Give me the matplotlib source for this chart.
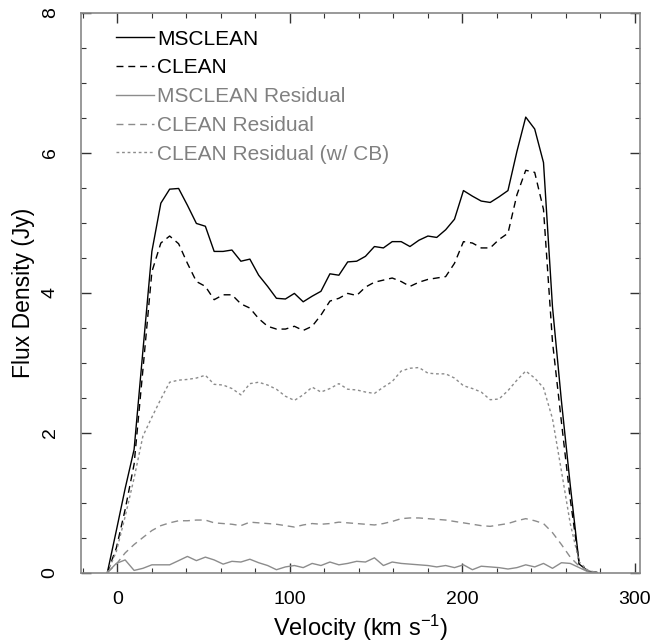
import matplotlib
matplotlib.use('Agg')
import matplotlib.pyplot as plt
from matplotlib.ticker import MultipleLocator

plt.rcParams['font.family'] = ['Liberation Sans', 'DejaVu Sans']
plt.rcParams['mathtext.default'] = 'regular'

# Velocidades de los canales (km/s)
velocidad = [-5.7, -0.5, 4.6, 9.8, 14.9, 20.1, 25.3, 30.4, 35.6, 40.7,
             45.9, 51.1, 56.2, 61.4, 66.5, 71.7, 76.9, 82.0, 87.2, 92.3,
             97.5, 102.7, 107.8, 113.0, 118.1, 123.3, 128.5, 133.6, 138.8, 143.9,
             149.1, 154.3, 159.4, 164.6, 169.7, 174.9, 180.1, 185.2, 190.4, 195.5,
             200.7, 205.9, 211.0, 216.2, 221.3, 226.5, 231.7, 236.8, 242.0, 247.1,
             252.3, 257.5, 262.6, 267.8, 272.9, 278.1]

mscleanFlux = [0.00, 0.60, 1.20, 1.76, 3.17, 4.59, 5.28, 5.48, 5.49, 5.25,
               4.99, 4.95, 4.59, 4.59, 4.61, 4.45, 4.48, 4.25, 4.09, 3.92,
               3.91, 3.99, 3.87, 3.95, 4.02, 4.27, 4.25, 4.44, 4.45, 4.52,
               4.66, 4.64, 4.73, 4.73, 4.66, 4.75, 4.81, 4.79, 4.90, 5.05,
               5.46, 5.38, 5.31, 5.29, 5.37, 5.46, 6.02, 6.51, 6.34, 5.86,
               3.80, 2.45, 1.25, 0.12, 0.02, 0.00]

cleanFlux = [0.00, 0.35, 0.90, 1.55, 2.90, 4.30, 4.71, 4.81, 4.70, 4.42,
             4.16, 4.09, 3.90, 3.97, 3.97, 3.84, 3.78, 3.63, 3.52, 3.48,
             3.48, 3.52, 3.46, 3.52, 3.68, 3.88, 3.92, 3.99, 3.96, 4.08,
             4.15, 4.18, 4.21, 4.16, 4.09, 4.15, 4.19, 4.21, 4.23, 4.42,
             4.73, 4.71, 4.64, 4.64, 4.76, 4.85, 5.40, 5.75, 5.72, 5.19,
             3.30, 2.15, 1.05, 0.12, 0.02, 0.00]

mscleanResid = [0.00, 0.13, 0.18, 0.03, 0.06, 0.11, 0.11, 0.11, 0.17, 0.23,
                0.17, 0.22, 0.18, 0.12, 0.16, 0.15, 0.19, 0.14, 0.10, 0.04,
                0.08, 0.10, 0.07, 0.13, 0.10, 0.15, 0.11, 0.13, 0.16, 0.15,
                0.21, 0.10, 0.15, 0.13, 0.12, 0.11, 0.10, 0.08, 0.10, 0.07,
                0.11, 0.04, 0.09, 0.08, 0.07, 0.05, 0.07, 0.11, 0.08, 0.13,
                0.06, 0.14, 0.13, 0.07, 0.01, 0.00]

cleanResid = [0.00, 0.12, 0.28, 0.40, 0.50, 0.60, 0.67, 0.71, 0.74, 0.74,
              0.75, 0.75, 0.71, 0.70, 0.69, 0.67, 0.72, 0.71, 0.70, 0.69,
              0.67, 0.65, 0.68, 0.70, 0.69, 0.70, 0.72, 0.71, 0.70, 0.69,
              0.68, 0.70, 0.73, 0.77, 0.78, 0.78, 0.77, 0.76, 0.75, 0.73,
              0.71, 0.69, 0.67, 0.66, 0.68, 0.70, 0.74, 0.77, 0.74, 0.70,
              0.57, 0.40, 0.22, 0.09, 0.03, 0.00]

cleanResidCB = [0.00, 0.30, 0.80, 1.35, 1.95, 2.22, 2.48, 2.72, 2.75, 2.76,
                2.78, 2.82, 2.69, 2.68, 2.63, 2.54, 2.70, 2.72, 2.68, 2.62,
                2.52, 2.46, 2.54, 2.65, 2.58, 2.63, 2.70, 2.62, 2.61, 2.58,
                2.56, 2.65, 2.73, 2.88, 2.92, 2.93, 2.85, 2.84, 2.84, 2.78,
                2.67, 2.63, 2.58, 2.47, 2.48, 2.60, 2.75, 2.88, 2.78, 2.64,
                2.20, 1.45, 0.70, 0.15, 0.03, 0.00]

gris = '#8c8c8c'

fig = plt.figure(figsize=(6.53, 6.44), dpi=100)
ax = fig.add_axes([0.124, 0.111, 0.856, 0.869])

ax.plot(velocidad, mscleanFlux, color='black', lw=1.0, label='MSCLEAN')
ax.plot(velocidad, cleanFlux, color='black', lw=1.0, dashes=(5, 3.5), label='CLEAN')
ax.plot(velocidad, mscleanResid, color=gris, lw=1.0, label='MSCLEAN Residual')
ax.plot(velocidad, cleanResid, color=gris, lw=1.0, dashes=(5, 3.5), label='CLEAN Residual')
ax.plot(velocidad, cleanResidCB, color=gris, lw=1.0, dashes=(2, 2), label='CLEAN Residual (w/ CB)')

ax.set_xlim(-21, 303)
ax.set_ylim(0, 8)
ax.xaxis.set_major_locator(MultipleLocator(100))
ax.xaxis.set_minor_locator(MultipleLocator(20))
ax.yaxis.set_major_locator(MultipleLocator(2))
ax.yaxis.set_minor_locator(MultipleLocator(0.5))

ax.tick_params(which='both', direction='in', top=True, right=True, color='#333333')
ax.tick_params(which='major', length=7, width=1.0)
ax.tick_params(which='minor', length=3.5, width=0.8)
ax.tick_params(axis='x', labelsize=14, pad=13)
ax.tick_params(axis='y', labelsize=14, pad=16, labelrotation=90)
for lbl in ax.get_yticklabels():
    lbl.set_verticalalignment('center')

for s in ax.spines.values():
    s.set_color('#888888')
    s.set_linewidth(1.2)

ax.set_xlabel('Velocity (km s$^{-1}$)', fontsize=17, labelpad=4)
ax.set_ylabel('Flux Density (Jy)', fontsize=16.5)
ax.yaxis.set_label_coords(-0.082, 0.5)

leg = ax.legend(loc='upper left', bbox_to_anchor=(0.048, 0.985), frameon=False,
                fontsize=15, handlelength=1.8, handletextpad=0.15, labelspacing=0.47,
                borderaxespad=0)
for i, t in enumerate(leg.get_texts()):
    if i >= 2:
        t.set_color('#808080')

plt.savefig('out.png', dpi=100)
